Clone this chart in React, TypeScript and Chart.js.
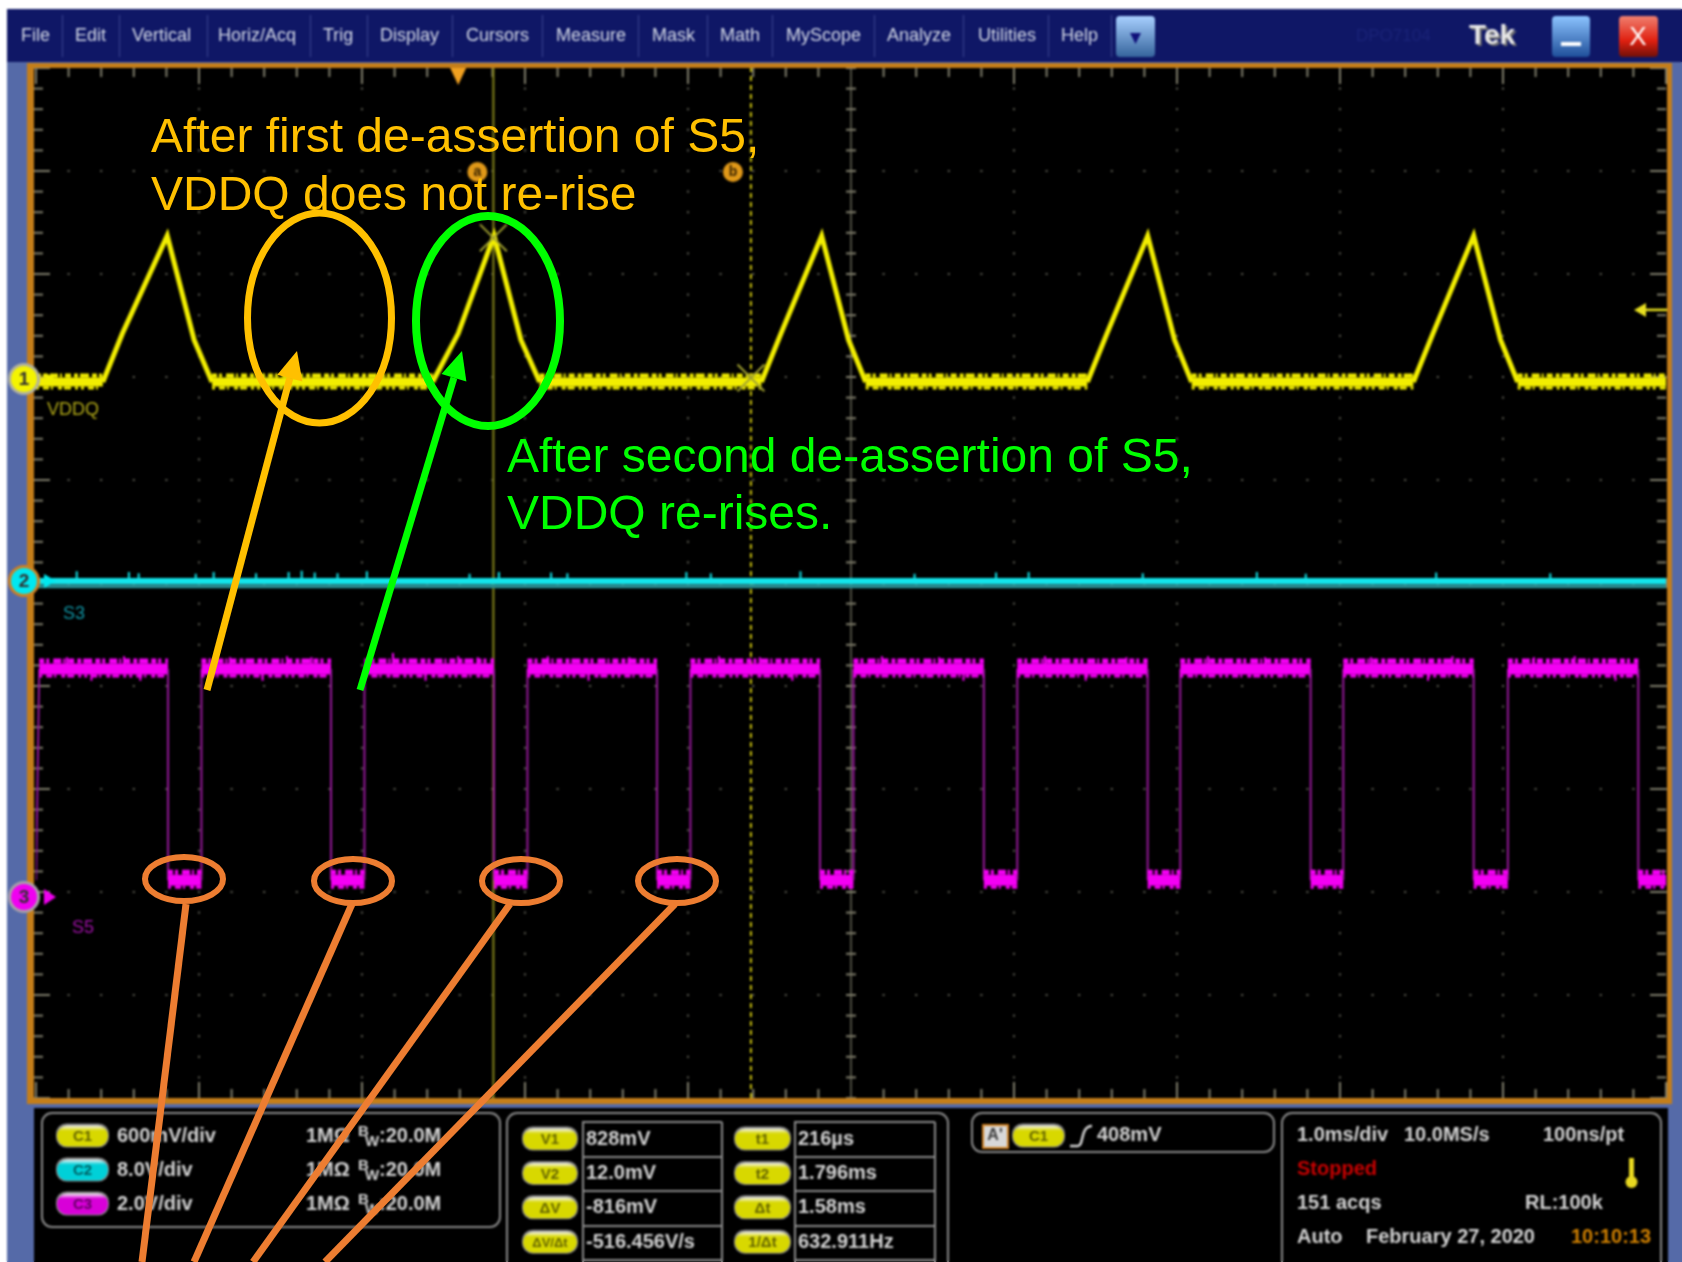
import React, { useEffect, useRef } from "react";
import { Chart, registerables } from "chart.js";

Chart.register(...registerables);

// ---- acquisition data (time in ms, levels in volts) ----
const vddqTime = [
  -2.59, -2.18, -2.06, -1.785, -1.62, -1.51,
  -0.157, 0.0, 0.22, 0.385, 0.5,
  1.86, 1.98, 2.23, 2.395, 2.5,
  3.86, 3.98, 4.23, 4.395, 4.5,
  5.86, 5.98, 6.23, 6.395, 6.5,
  7.41,
];
const vddqVolts = [
  -0.012, -0.012, 0.27, 0.84, 0.233, -0.012,
  -0.012, 0.27, 0.84, 0.233, -0.012,
  -0.012, 0.27, 0.84, 0.233, -0.012,
  -0.012, 0.27, 0.84, 0.233, -0.012,
  -0.012, 0.27, 0.84, 0.233, -0.012,
  -0.012,
];
const vddqBandEdges = [0.038, -0.035];

const s3Time = [-2.59, 7.41];
const s3Volts = [0.0, 0.0];
const s3LowerVolts = [-0.42, -0.42];
const s3NoiseTime = [-2.34, -2.02, -1.96, -1.61, -1.5, -1.24, -1.04, -0.96, -0.88, -0.74, -0.56, 0.07, 0.25, 0.57, 0.67, 1.4, 1.55, 2.1, 2.8, 3.3, 3.5, 4.2, 4.9, 5.2, 6.0, 6.7];
const s3NoiseVolts = [0.75, 0.7, 0.6, 0.55, 0.7, 0.6, 0.7, 0.8, 0.65, 0.6, 0.75, 0.55, 0.7, 0.65, 0.6, 0.7, 0.6, 0.75, 0.55, 0.65, 0.7, 0.6, 0.7, 0.55, 0.65, 0.6];

const s5Time = [
  -2.59, -2.57, -1.78, -1.78, -1.575, -1.575, -0.78, -0.78, -0.575, -0.575,
  0.22, 0.22, 0.425, 0.425, 1.22, 1.22, 1.425, 1.425, 2.22, 2.22, 2.425, 2.425,
  3.225, 3.225, 3.43, 3.43, 4.23, 4.23, 4.43, 4.43, 5.23, 5.23, 5.43, 5.43,
  6.23, 6.23, 6.44, 6.44, 7.24, 7.24, 7.41,
];
const s5Volts = [
  0.33, 4.43, 4.43, 0.33, 0.33, 4.43, 4.43, 0.33, 0.33, 4.43,
  4.43, 0.33, 0.33, 4.43, 4.43, 0.33, 0.33, 4.43, 4.43, 0.33, 0.33, 4.43,
  4.43, 0.33, 0.33, 4.43, 4.43, 0.33, 0.33, 4.43, 4.43, 0.33, 0.33, 4.43,
  4.43, 0.33, 0.33, 4.43, 4.43, 0.33, 0.33,
];
const s5BandEdges = [0.155, -0.136];
const s5HighNoiseTime = [-2.4, -2.25, -2.05, -1.95, -1.4, -1.2, -1.05, -0.9, -0.4, -0.2, 0.0, 0.12, 0.55, 0.8, 1.05, 1.6, 1.85, 2.05, 2.6, 2.95, 3.1, 3.6, 3.85, 4.1, 4.6, 4.95, 5.6, 5.95, 6.1, 6.6, 6.85, 7.1];
const s5HighNoiseVolts = [4.66, 4.2, 4.68, 4.2, 4.66, 4.2, 4.68, 4.66, 4.74, 4.2, 4.68, 4.66, 4.68, 4.2, 4.66, 4.68, 4.66, 4.2, 4.68, 4.66, 4.2, 4.68, 4.2, 4.66, 4.68, 4.66, 4.66, 4.2, 4.68, 4.66, 4.68, 4.2];

const cursorTimes = [0.216, 1.796];
const cursorVolts = [0.828, 0.012];
const triggerLevel = 0.408;

const menuItems = ["File", "Edit", "Vertical", "Horiz/Acq", "Trig", "Display", "Cursors", "Measure", "Mask", "Math", "MyScope", "Analyze", "Utilities", "Help"];
const channelRows = [
  ["C1", "600mV/div"],
  ["C2", "8.0V/div"],
  ["C3", "2.0V/div"],
];
const voltCursorRows = [["V1", "828mV"], ["V2", "12.0mV"], ["ΔV", "-816mV"], ["ΔV/Δt", "-516.456V/s"]];
const timeCursorRows = [["t1", "216µs"], ["t2", "1.796ms"], ["Δt", "1.58ms"], ["1/Δt", "632.911Hz"]];

const annotationFirst = ["After first de-assertion of S5,", "VDDQ does not re-rise"];
const annotationSecond = ["After second de-assertion of S5,", "VDDQ re-rises."];

const pts = (xs: number[], ys: number[]) => xs.map((x, i) => ({ x, y: ys[i] }));
// each noise spike is a short stroke from the band level out to its read value
const spikes = (xs: number[], ys: number[], base: number) =>
  xs.flatMap((x, i) => [{ x, y: base }, { x, y: ys[i] }, { x, y: NaN }]);
// the rough outer edge of a noisy band follows the trace at a read-off distance
const edge = (xs: number[], ys: number[], off: number) => xs.map((x, i) => ({ x, y: ys[i] + off }));

const SANS = '"Liberation Sans", Arial, sans-serif';
const W = 1682;
const H = 1262;

function roundRect(c: CanvasRenderingContext2D, x: number, y: number, w: number, h: number, r: number) {
  c.beginPath();
  c.roundRect(x, y, w, h, r);
}
function text(c: CanvasRenderingContext2D, s: string, x: number, y: number, font: string, color: string, align: CanvasTextAlign = "left") {
  c.font = font;
  c.fillStyle = color;
  c.textAlign = align;
  c.textBaseline = "middle";
  c.fillText(s, x, y);
}
function pill(c: CanvasRenderingContext2D, x0: number, x1: number, cy: number, label: string, col: string, fontSize = 15) {
  const h = 21;
  c.fillStyle = "#8a8a8a";
  roundRect(c, x0 - 1, cy - h / 2 - 2, x1 - x0 + 2, h + 3, h / 2);
  c.fill();
  const g = c.createLinearGradient(0, cy - h / 2, 0, cy + h / 2);
  g.addColorStop(0, "#f4f4f4");
  g.addColorStop(0.25, col);
  g.addColorStop(1, col);
  c.fillStyle = g;
  roundRect(c, x0, cy - h / 2, x1 - x0, h, h / 2);
  c.fill();
  text(c, label, (x0 + x1) / 2, cy + 1, `bold ${fontSize}px ${SANS}`, "rgba(0,0,0,0.55)", "center");
}

const menuX = [21, 75, 132, 218, 323, 380, 466, 556, 652, 720, 786, 887, 978, 1061];
const menuSep = [62, 119, 207, 310, 367, 452, 542, 638, 707, 772, 874, 963, 1048, 1111];

function ellipse(c: CanvasRenderingContext2D, x: number, y: number, rx: number, ry: number, col: string, lw: number) {
  c.strokeStyle = col;
  c.lineWidth = lw;
  c.beginPath();
  c.ellipse(x, y, rx, ry, 0, 0, Math.PI * 2);
  c.stroke();
}
function arrow(c: CanvasRenderingContext2D, x0: number, y0: number, x1: number, y1: number, col: string, lw: number) {
  const a = Math.atan2(y1 - y0, x1 - x0);
  const hl = 28;
  const hw = 13;
  const bx = x1 - hl * Math.cos(a);
  const by = y1 - hl * Math.sin(a);
  c.strokeStyle = col;
  c.lineWidth = lw;
  c.beginPath();
  c.moveTo(x0, y0);
  c.lineTo(bx, by);
  c.stroke();
  c.fillStyle = col;
  c.beginPath();
  c.moveTo(x1, y1);
  c.lineTo(bx - hw * Math.sin(a), by + hw * Math.cos(a));
  c.lineTo(bx + hw * Math.sin(a), by - hw * Math.cos(a));
  c.closePath();
  c.fill();
}
function line(c: CanvasRenderingContext2D, x0: number, y0: number, x1: number, y1: number, col: string, lw: number) {
  c.strokeStyle = col;
  c.lineWidth = lw;
  c.beginPath();
  c.moveTo(x0, y0);
  c.lineTo(x1, y1);
  c.stroke();
}
function badge(c: CanvasRenderingContext2D, x: number, y: number, r: number, fill: string, ring: string, label: string) {
  c.fillStyle = ring;
  c.beginPath();
  c.arc(x, y, r + 3, 0, Math.PI * 2);
  c.fill();
  c.fillStyle = fill;
  c.beginPath();
  c.arc(x, y, r, 0, Math.PI * 2);
  c.fill();
  text(c, label, x, y + 1, `bold 19px ${SANS}`, "#303030", "center");
}

const backdrop = {
  id: "backdrop",
  beforeDraw(chart: any) {
    const c: CanvasRenderingContext2D = chart.ctx;
    const { left, right, top, bottom } = chart.chartArea;
    c.save();
    c.fillStyle = "#ffffff";
    c.fillRect(0, 0, W, H);
    c.fillStyle = "#556aa8";
    c.fillRect(7, 9, W - 7, H - 9);
    c.fillStyle = "#0f1766";
    c.fillRect(7, 9, W - 7, 53);
    c.fillStyle = "#000";
    c.fillRect(34, 66, 1634, 1034);
    c.fillRect(34, 1108, 1634, H - 1108);

    // graticule
    const dw = (right - left) / 10;
    const dh = (bottom - top) / 10;
    const tx = dw / 5;
    const ty = dh / 5;
    c.fillStyle = "#5c5c52";
    for (let i = 1; i < 10; i++) {
      for (let k = 0; k <= 50; k++) c.fillRect(left + k * tx - 1, top + i * dh - 1, 2, 2);
      for (let k = 0; k <= 50; k++) c.fillRect(left + i * dw - 1, top + k * ty - 1, 2, 2);
    }
    c.fillStyle = "#7e7c6a";
    for (let k = 0; k <= 50; k++) {
      const major = k % 5 === 0;
      const lenX = major ? 16 : 9;
      const x = left + k * tx;
      c.fillRect(x - 1, top, 2, lenX);
      c.fillRect(x - 1, bottom - lenX, 2, lenX);
      const y = top + k * ty;
      c.fillRect(left - 2, y - 1, lenX, 2);
      c.fillRect(right - lenX, y - 1, lenX, 2);
    }
    // centre axes
    const cx = left + 5 * dw;
    const cy = top + 5 * dh;
    c.fillStyle = "#4c4b40";
    c.fillRect(cx - 1, top, 2, bottom - top);
    c.fillStyle = "#7e7c6a";
    for (let k = 0; k <= 50; k++) {
      c.fillRect(cx - 5, top + k * ty - 1, 10, 2);
      c.fillRect(left + k * tx - 1, cy - 5, 2, 10);
    }

    // menu bar
    c.fillStyle = "#3a4490";
    menuSep.forEach((x) => c.fillRect(x, 15, 1, 42));
    menuItems.forEach((m, i) => text(c, m, menuX[i], 36, `18px ${SANS}`, "#d6dbe8"));
    // dropdown button
    let g = c.createLinearGradient(0, 16, 0, 57);
    g.addColorStop(0, "#a8d0ff");
    g.addColorStop(1, "#35649c");
    c.fillStyle = g;
    roundRect(c, 1116, 16, 39, 41, 4);
    c.fill();
    c.fillStyle = "#10107a";
    c.beginPath();
    c.moveTo(1130, 33);
    c.lineTo(1141, 33);
    c.lineTo(1135.5, 44);
    c.closePath();
    c.fill();
    text(c, "DPO7104", 1356, 36, `17px ${SANS}`, "#1a2378");
    text(c, "Tek", 1471, 38, `bold 28px ${SANS}`, "#707070");
    text(c, "Tek", 1469, 36, `bold 28px ${SANS}`, "#e8e8e8");
    g = c.createLinearGradient(0, 16, 0, 57);
    g.addColorStop(0, "#8cc4ff");
    g.addColorStop(1, "#1f4f9a");
    c.fillStyle = g;
    roundRect(c, 1552, 16, 38, 41, 4);
    c.fill();
    c.fillStyle = "#fff";
    c.fillRect(1561, 42, 20, 4);
    g = c.createLinearGradient(0, 16, 0, 57);
    g.addColorStop(0, "#f08070");
    g.addColorStop(0.6, "#e02010");
    g.addColorStop(1, "#701008");
    c.fillStyle = g;
    roundRect(c, 1619, 16, 39, 41, 4);
    c.fill();
    text(c, "X", 1638, 38, `26px ${SANS}`, "#fff", "center");

    // orange frame
    c.fillStyle = "#c47e1a";
    c.fillRect(27, 63, 1645, 5);
    c.fillRect(27, 63, 7, 1041);
    c.fillRect(1667, 63, 5, 1041);
    c.fillRect(27, 1098, 1645, 6);

    // trace labels
    text(c, "VDDQ", 47, 410, `18px ${SANS}`, "#b0a818");
    text(c, "S3", 63, 614, `18px ${SANS}`, "#1095a5");
    text(c, "S5", 72, 928, `18px ${SANS}`, "#a010a8");

    // readout boxes
    c.strokeStyle = "#8a8a8a";
    c.lineWidth = 2;
    roundRect(c, 42, 1113, 458, 114, 10);
    c.stroke();
    roundRect(c, 507, 1113, 441, 170, 10);
    c.stroke();
    roundRect(c, 972, 1113, 302, 39, 10);
    c.stroke();
    roundRect(c, 1282, 1113, 379, 170, 10);
    c.stroke();

    const bf = `bold 20px ${SANS}`;
    const tc = "#d4d4d4";
    const cols = ["#d8d800", "#00d0d8", "#d800d8"];
    channelRows.forEach((r, i) => {
      const y = 1136 + i * 34;
      pill(c, 57, 108, y, r[0], cols[i]);
      text(c, r[1], 117, y, bf, tc);
      text(c, "1MΩ", 306, y, bf, tc);
      text(c, "B", 358, y - 4, `bold 15px ${SANS}`, tc);
      text(c, "W", 365, y + 6, `bold 15px ${SANS}`, tc);
      text(c, ":20.0M", 379, y, bf, tc);
    });
    c.fillStyle = "#8a8a8a";
    [1122, 1157, 1191, 1226, 1260].forEach((y) => {
      c.fillRect(582, y - 1, 140, 2);
      c.fillRect(794, y - 1, 141, 2);
    });
    c.fillRect(582, 1122, 2, 140);
    c.fillRect(721, 1122, 2, 140);
    c.fillRect(794, 1122, 2, 140);
    c.fillRect(934, 1122, 2, 140);
    voltCursorRows.forEach((r, i) => {
      const y = 1139 + i * 34.4;
      pill(c, 523, 577, y, r[0], "#d8d800", r[0].length > 3 ? 13 : 15);
      text(c, r[1], 586, y, bf, tc);
    });
    timeCursorRows.forEach((r, i) => {
      const y = 1139 + i * 34.4;
      pill(c, 735, 790, y, r[0], "#d8d800", 15);
      text(c, r[1], 798, y, bf, tc);
    });
    // trigger
    c.fillStyle = "#d8d8d8";
    c.fillRect(983, 1125, 25, 23);
    c.strokeStyle = "#d08020";
    c.strokeRect(983, 1125, 25, 23);
    text(c, "A'", 995, 1136, `bold 16px ${SANS}`, "#404040", "center");
    pill(c, 1013, 1064, 1136, "C1", "#d8d800");
    c.strokeStyle = "#d4d4d4";
    c.lineWidth = 2.5;
    c.beginPath();
    c.moveTo(1070, 1146);
    c.lineTo(1078, 1146);
    c.bezierCurveTo(1084, 1146, 1080, 1126, 1092, 1126);
    c.stroke();
    text(c, "408mV", 1097, 1135, bf, tc);
    // horizontal
    text(c, "1.0ms/div", 1297, 1135, bf, tc);
    text(c, "10.0MS/s", 1404, 1135, bf, tc);
    text(c, "100ns/pt", 1543, 1135, bf, tc);
    text(c, "Stopped", 1297, 1169, bf, "#c80000");
    text(c, "151 acqs", 1297, 1203, bf, tc);
    text(c, "RL:100k", 1525, 1203, bf, tc);
    text(c, "Auto", 1297, 1237, bf, tc);
    text(c, "February 27, 2020", 1366, 1237, bf, tc);
    text(c, "10:10:13", 1571, 1237, bf, "#d08000");
    c.fillStyle = "#e8d820";
    c.fillRect(1629, 1158, 5, 24);
    c.beginPath();
    c.arc(1631.5, 1182, 6, 0, Math.PI * 2);
    c.fill();
    c.restore();
  },
  afterDatasetsDraw(chart: any) {
    const c: CanvasRenderingContext2D = chart.ctx;
    const x = chart.scales.x;
    const y1 = chart.scales.y1;
    c.save();
    // channel markers
    badge(c, 24, 379, 13, "#f4f400", "#b0b0a0", "1");
    badge(c, 24, 581, 13, "#00e8f0", "#d08020", "2");
    badge(c, 24, 897, 13, "#f000f0", "#a8a0a8", "3");
    c.fillStyle = "#f0f000";
    c.beginPath();
    c.moveTo(56, 379);
    c.lineTo(46, 373);
    c.lineTo(46, 385);
    c.fill();
    c.fillStyle = "#00e8f0";
    c.beginPath();
    c.moveTo(56, 581);
    c.lineTo(44, 574);
    c.lineTo(44, 588);
    c.fill();
    c.fillStyle = "#f000f0";
    c.beginPath();
    c.moveTo(56, 897);
    c.lineTo(44, 889);
    c.lineTo(44, 905);
    c.fill();
    // trigger position + level
    const tx = x.getPixelForValue(0);
    c.fillStyle = "#f0a020";
    c.beginPath();
    c.moveTo(tx - 8, 68);
    c.lineTo(tx + 8, 68);
    c.lineTo(tx, 85);
    c.fill();
    const ly = y1.getPixelForValue(triggerLevel);
    c.strokeStyle = "#e8e020";
    c.lineWidth = 2.5;
    c.beginPath();
    c.moveTo(1667, ly);
    c.lineTo(1640, ly);
    c.stroke();
    c.fillStyle = "#e8e020";
    c.beginPath();
    c.moveTo(1634, ly);
    c.lineTo(1646, ly - 7);
    c.lineTo(1646, ly + 7);
    c.fill();
    // cursor tags
    const ca = x.getPixelForValue(cursorTimes[0]) - 16;
    const cb = x.getPixelForValue(cursorTimes[1]) - 18;
    ["a", "b"].forEach((l, i) => {
      const px = i === 0 ? ca : cb;
      c.fillStyle = "#e09818";
      c.beginPath();
      c.arc(px, 172, 10, 0, Math.PI * 2);
      c.fill();
      text(c, l, px, 172, `bold 14px ${SANS}`, "#3a2400", "center");
    });
    // the whole instrument screen is a soft capture: blur everything once
    c.filter = "blur(0.8px)";
    c.drawImage(chart.canvas, 0, 0);
    c.restore();
  },
};

const overlay = {
  id: "overlay",
  afterDraw(chart: any) {
    const c: CanvasRenderingContext2D = chart.ctx;
    c.save();
    // slide annotations stay crisp
    const af = `48px ${SANS}`;
    c.textBaseline = "alphabetic";
    c.textAlign = "left";
    c.font = af;
    c.fillStyle = "#FFC000";
    c.fillText(annotationFirst[0], 151, 152);
    c.fillText(annotationFirst[1], 151, 210);
    c.fillStyle = "#00FF00";
    c.fillText(annotationSecond[0], 507, 472);
    c.fillText(annotationSecond[1], 507, 529);

    c.lineCap = "butt";
    ellipse(c, 319.5, 318, 72, 105, "#FFC000", 7);
    ellipse(c, 488, 321, 72, 105, "#00FF00", 8);
    arrow(c, 207, 690, 297, 351, "#FFC000", 7);
    arrow(c, 360, 690, 462, 351, "#00FF00", 7);
    const o = "#ED7D31";
    ellipse(c, 184, 879, 39, 22, o, 6);
    ellipse(c, 353, 881, 39, 22, o, 6);
    ellipse(c, 521, 881, 39, 22, o, 6);
    ellipse(c, 677, 881, 39, 22, o, 6);
    line(c, 186, 904, 142, 1262, o, 7);
    line(c, 352, 904, 194, 1262, o, 7);
    line(c, 510, 904, 253, 1262, o, 7);
    line(c, 675, 904, 325, 1262, o, 7);
    c.restore();
  },
};

export default function App() {
  const ref = useRef<HTMLCanvasElement>(null);
  useEffect(() => {
    const flat = (ctx: any) => ctx.p0.parsed.y === ctx.p1.parsed.y;
    const thin = { pointRadius: 0, tension: 0, spanGaps: false };
    const rough = (col: string, width: number, dash: number[]) => ({
      borderColor: col,
      borderWidth: width,
      borderDash: dash,
      pointRadius: 0,
      tension: 0,
      segment: { borderColor: (ctx: any) => (flat(ctx) ? col : "transparent") },
    });
    const dashA = [5, 2, 3, 4, 8, 2, 2, 3, 6, 3, 4, 2, 9, 3];
    const dashB = [3, 4, 6, 2, 2, 5, 4, 2, 7, 4, 3, 3];
    const chart = new Chart(ref.current!, {
      type: "line",
      data: {
        datasets: [
          { label: "Cursor crossing", data: pts(cursorTimes, cursorVolts), yAxisID: "y1", showLine: false, pointStyle: "crossRot", pointRadius: 19, pointBorderColor: "#a0a030", pointBorderWidth: 2, pointBackgroundColor: "transparent" },
          { label: "VDDQ top edge", data: edge(vddqTime, vddqVolts, vddqBandEdges[0]), yAxisID: "y1", ...rough("#f2ee00", 4, dashA) },
          { label: "VDDQ bottom edge", data: edge(vddqTime, vddqVolts, vddqBandEdges[1]), yAxisID: "y1", ...rough("#f2ee00", 3, dashB) },
          {
            label: "VDDQ",
            data: pts(vddqTime, vddqVolts),
            yAxisID: "y1",
            borderColor: "#f2ee00",
            borderWidth: 5,
            pointRadius: 0,
            tension: 0,
            segment: { borderWidth: (ctx: any) => (flat(ctx) ? 9 : 5) },
          },
          { label: "S3 noise", data: spikes(s3NoiseTime, s3NoiseVolts, 0), yAxisID: "y2", borderColor: "#12e4ea", borderWidth: 2, ...thin },
          { label: "S3", data: pts(s3Time, s3Volts), yAxisID: "y2", borderColor: "#12e4ea", borderWidth: 6, ...thin },
          { label: "S3 lower", data: pts(s3Time, s3LowerVolts), yAxisID: "y2", borderColor: "#2a8e92", borderWidth: 4, ...thin },
          { label: "S5 top edge", data: edge(s5Time, s5Volts, s5BandEdges[0]), yAxisID: "y3", ...rough("#f400f4", 5, dashA) },
          { label: "S5 bottom edge", data: edge(s5Time, s5Volts, s5BandEdges[1]), yAxisID: "y3", ...rough("#f400f4", 3, dashB) },
          { label: "S5 noise high", data: spikes(s5HighNoiseTime, s5HighNoiseVolts, 4.43), yAxisID: "y3", borderColor: "#f400f4", borderWidth: 2, ...thin },
          {
            label: "S5",
            data: pts(s5Time, s5Volts),
            yAxisID: "y3",
            borderColor: "#f400f4",
            borderWidth: 11,
            pointRadius: 0,
            tension: 0,
            segment: {
              borderWidth: (ctx: any) => (flat(ctx) ? 11 : 2),
              borderColor: (ctx: any) => (flat(ctx) ? "#f400f4" : "#96189a"),
            },
          },
          { label: "Cursor b", data: pts([cursorTimes[1], cursorTimes[1]], [-4.183, 1.817]), yAxisID: "y1", borderColor: "#c8c010", borderWidth: 2, borderDash: [5, 4], pointRadius: 0 },
          { label: "Cursor a", data: pts([cursorTimes[0], cursorTimes[0]], [-4.183, 1.817]), yAxisID: "y1", borderColor: "#85851a", borderWidth: 2, pointRadius: 0 },
        ],
      },
      options: {
        animation: false,
        responsive: false,
        maintainAspectRatio: false,
        parsing: false as any,
        layout: { autoPadding: false, padding: { left: 36, right: 16, top: 68, bottom: 164 } },
        plugins: { legend: { display: false }, title: { display: false }, tooltip: { enabled: false } },
        scales: {
          x: { type: "linear", display: false, min: -2.59, max: 7.41 },
          y1: { type: "linear", display: false, min: -4.183, max: 1.817 },
          y2: { type: "linear", display: false, min: -40.16, max: 39.84 },
          y3: { type: "linear", display: false, min: -3.9, max: 16.1 },
        },
      },
      plugins: [backdrop, overlay],
    } as any);
    return () => chart.destroy();
  }, []);
  return (
    <div style={{ position: "absolute", left: 0, top: 0, width: W, height: H }}>
      <canvas ref={ref} width={W} height={H} style={{ display: "block", width: W, height: H }} />
    </div>
  );
}
